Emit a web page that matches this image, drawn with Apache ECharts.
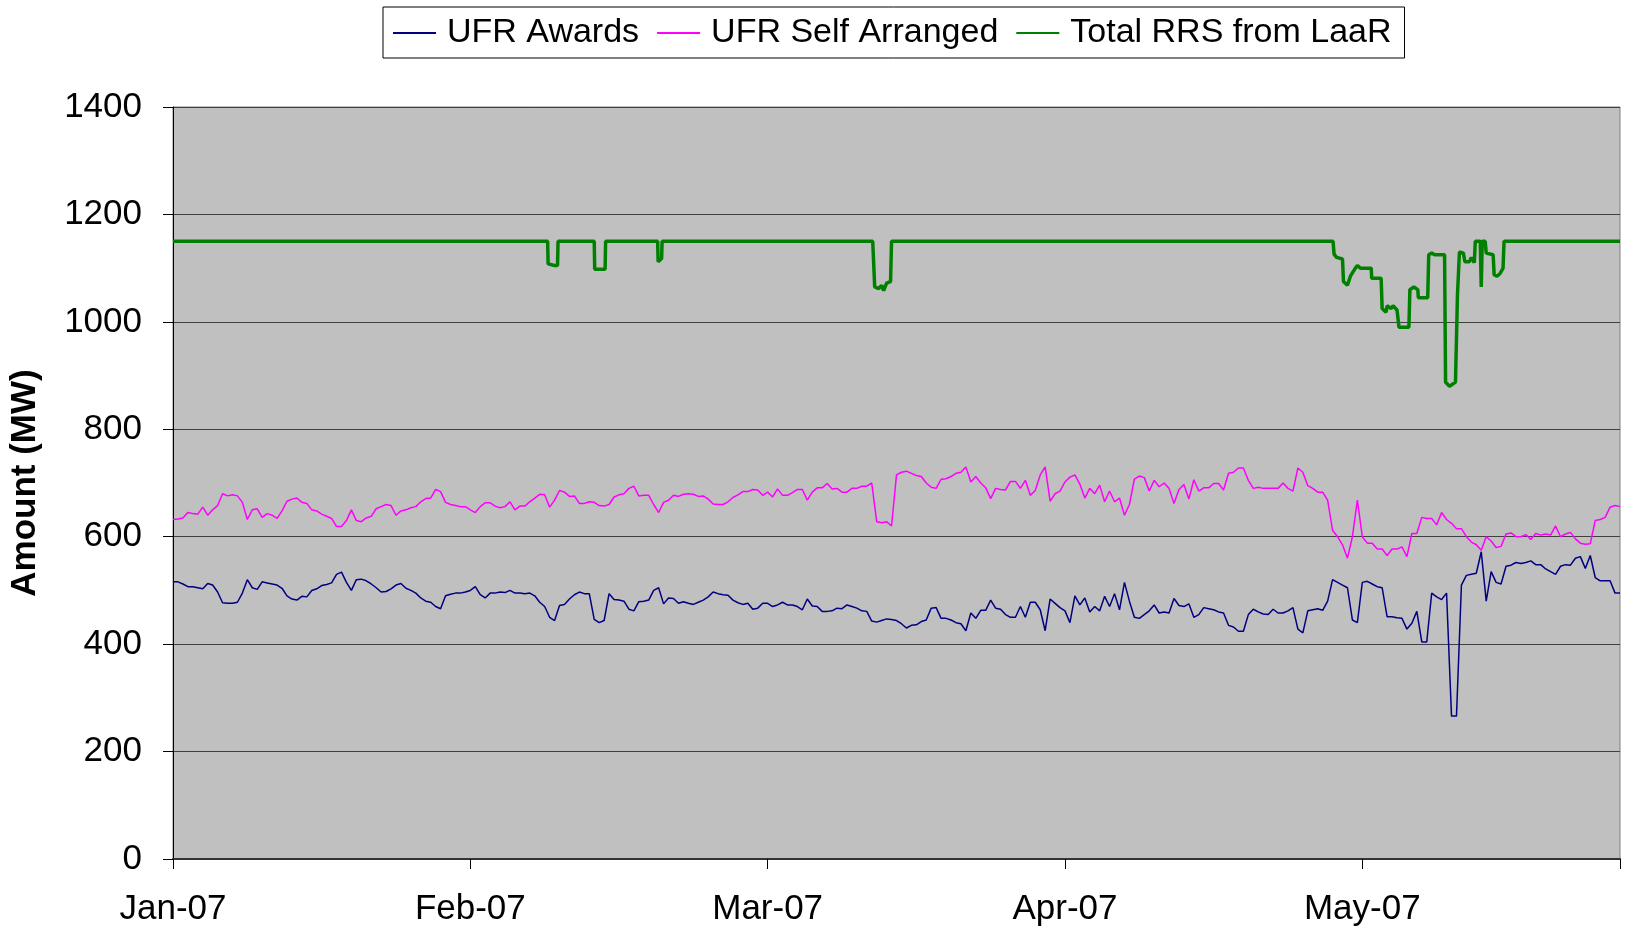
<!DOCTYPE html>
<html>
<head>
<meta charset="utf-8">
<script src="https://cdn.jsdelivr.net/npm/echarts@6/dist/echarts.min.js"></script>
<style>
  html, body { margin: 0; padding: 0; background: #fff; }
  #chart { width: 1630px; height: 930px; }
</style>
</head>
<body>
<div id="chart"></div>
<script>
// X axis tick labels (one every 30 days from the start)
const tickLabels = ['Jan-07', 'Feb-07', 'Mar-07', 'Apr-07', 'May-07'];
const TICK_DAYS = 30;
const DAY_STEP = 0.5;   // sampling step of the two UFR series (days)
const X_MAX = 146;

// UFR Awards (MW), one value every half day
const ufrAwards = [
  516,516,512,507,507,505,503,513,510,497,
  477,476,476,478,495,520,505,502,516,514,
  512,510,504,490,484,482,489,488,500,503,
  509,511,514,530,534,515,500,520,521,518,
  512,505,497,498,503,510,513,504,500,495,
  486,480,478,470,466,490,493,495,495,497,
  500,507,492,486,495,495,497,496,500,495,
  495,494,495,490,478,470,450,444,472,474,
  484,492,497,494,494,446,440,444,494,483,
  482,480,465,462,479,480,482,500,505,475,
  486,485,476,479,476,474,478,482,488,497,
  494,492,491,482,477,474,476,465,
  467,476,476,470,473,478,473,473,470,464,484,471,
  470,461,461,462,467,466,473,470,467,462,
  461,443,441,444,447,446,444,438,430,435,
  436,442,445,467,468,448,448,445,440,438,
  425,458,448,463,463,482,467,465,455,450,
  450,470,450,478,478,464,425,484,
  476,468,
  462,440,490,473,486,460,470,462,489,470,
  494,464,515,480,450,448,455,462,473,458,
  460,458,485,472,470,475,450,455,468,466,
  464,460,458,435,432,424,424,455,465,460,
  456,455,465,458,458,462,468,428,421,462,
  464,466,463,480,520,515,
  510,505,445,440,
  515,517,512,507,505,451,451,449,448,428,
  439,461,404,404,495,488,483,495,266,266,
  510,528,530,532,572,480,535,515,512,545,
  547,552,550,552,555,548,548,540,535,530,
  545,548,547,560,563,541,565,524,518,518,
  518,495,495
];

// UFR Self Arranged (MW), one value every half day
const ufrSelfArranged = [
  632,633,635,645,643,642,655,640,650,658,
  680,676,678,676,664,632,650,652,636,643,
  640,634,648,666,670,672,664,662,650,648,
  642,638,634,619,619,630,650,630,628,635,
  638,652,656,660,658,640,648,650,654,656,
  665,671,672,688,684,664,660,658,656,656,
  650,645,656,663,663,657,654,656,665,650,
  657,657,665,672,679,678,655,668,686,683,
  675,676,662,662,665,664,658,657,660,674,
  678,680,690,694,676,677,677,660,645,664,
  668,677,675,679,680,679,675,676,670,661,
  660,660,665,673,678,684,684,688,
  687,677,683,674,689,677,677,682,688,688,668,683,
  691,691,699,689,690,683,683,690,690,694,
  694,700,628,626,628,620,715,720,722,718,
  714,712,700,692,690,707,708,712,718,720,
  730,702,712,700,691,671,690,688,687,703,
  703,690,705,677,686,715,730,666,
  680,685,
  702,711,715,698,672,690,680,696,665,685,
  665,672,640,660,707,713,710,685,705,693,
  700,690,662,688,697,670,706,685,691,691,
  699,699,687,718,720,728,728,705,690,692,
  690,690,690,690,700,690,685,728,720,695,
  690,683,683,668,612,600,
  585,560,600,668,
  600,588,588,577,577,565,577,577,581,563,
  606,606,636,634,634,622,645,632,625,615,
  615,600,590,585,575,600,592,580,582,605,
  607,600,600,604,595,606,603,605,603,620,
  600,605,608,596,588,586,587,630,632,636,
  655,658,656
];

// Total RRS from LaaR: change points (day, MW)
const rrsDays = [
  0, 37.8, 37.85, 38.5, 38.8, 38.85,
  42.5, 42.55, 43.6, 43.65,
  48.9, 48.95, 49.3, 49.35,
  70.6, 70.8, 71.2, 71.5, 71.7, 72.0, 72.4, 72.5,
  117.05, 117.15, 117.4, 118.0, 118.1, 118.5, 118.8, 119.3, 119.5, 119.8,
  120.9, 120.95, 121.9, 122.0, 122.4, 122.5, 122.9, 123.1, 123.5, 123.7,
  124.7, 124.8, 125.2, 125.6, 125.65, 126.6, 126.7, 127.0, 127.3, 128.3,
  128.4, 128.8, 129.4, 129.6, 129.8, 130.2, 130.35, 130.8, 131.0, 131.3,
  131.4, 131.9, 132.0, 132.1, 132.4, 132.5, 133.2, 133.3, 133.6, 133.9,
  134.2, 134.3, 146
];
const rrsValues = [
  1150, 1150, 1108, 1105, 1105, 1150,
  1150, 1098, 1098, 1150,
  1150, 1112, 1118, 1150,
  1150, 1065, 1062, 1068, 1058, 1072, 1075, 1150,
  1150, 1126, 1120, 1117, 1075, 1068, 1085, 1100, 1105, 1100,
  1100, 1081, 1081, 1025, 1018, 1030, 1025, 1030, 1022, 990,
  990, 1060, 1065, 1060, 1045, 1045, 1125, 1128, 1125, 1125,
  888, 880, 888, 1050, 1130, 1128, 1112, 1112, 1120, 1110,
  1150, 1150, 1065, 1150, 1150, 1128, 1125, 1088, 1085, 1090,
  1100, 1150, 1150
];

const FONT = '"Liberation Sans", Arial, sans-serif';
const LEGEND_LINE = 'path://M0,0 L43,0 L43,2 L0,2 Z';

const chart = echarts.init(document.getElementById('chart'), null, { renderer: 'canvas' });
chart.setOption({
  animation: false,
  backgroundColor: '#ffffff',
  legend: {
    top: 7,
    left: 383,
    padding: [9, 13, 8, 10],
    borderColor: '#000',
    borderWidth: 1,
    itemWidth: 43,
    itemHeight: 2,
    itemGap: 18,
    textStyle: { fontSize: 34, fontFamily: FONT, color: '#000', padding: [0, 0, 0, 6] },
    data: [
      { name: 'UFR Awards', icon: LEGEND_LINE },
      { name: 'UFR Self Arranged', icon: LEGEND_LINE },
      { name: 'Total RRS from LaaR', icon: LEGEND_LINE }
    ]
  },
  grid: {
    left: 172, right: 10, top: 107, bottom: 71,
    show: true,
    backgroundColor: '#C0C0C0',
    borderColor: '#808080',
    borderWidth: 1
  },
  xAxis: {
    type: 'value',
    min: 0,
    max: X_MAX,
    interval: TICK_DAYS,
    axisLine: { show: true, lineStyle: { color: '#333', width: 2 } },
    axisTick: { show: true, length: 10, lineStyle: { color: '#000', width: 1 } },
    axisLabel: {
      margin: 33,
      fontSize: 35,
      fontFamily: FONT,
      color: '#000',
      formatter: function (v) {
        return (v % TICK_DAYS === 0 && tickLabels[v / TICK_DAYS]) ? tickLabels[v / TICK_DAYS] : '';
      }
    },
    splitLine: { show: false }
  },
  yAxis: {
    type: 'value',
    min: 0,
    max: 1400,
    interval: 200,
    name: 'Amount (MW)',
    nameLocation: 'middle',
    nameGap: 130,
    nameTextStyle: { fontSize: 35, fontWeight: 'bold', fontFamily: FONT, color: '#000' },
    axisLine: { show: true, lineStyle: { color: '#000', width: 1 } },
    axisTick: { show: true, length: 10, lineStyle: { color: '#000', width: 1 } },
    axisLabel: {
      margin: 31, fontSize: 35, fontFamily: FONT, color: '#000',
      formatter: function (v) { return String(v); }
    },
    splitLine: { show: true, lineStyle: { color: '#404040', width: 1.2 } }
  },
  series: [
    {
      name: 'UFR Awards',
      type: 'line',
      symbol: 'none',
      data: ufrAwards.map((v, i) => [i * DAY_STEP, v]),
      lineStyle: { color: '#000080', width: 1.5 },
      itemStyle: { color: '#000080' }
    },
    {
      name: 'UFR Self Arranged',
      type: 'line',
      symbol: 'none',
      data: ufrSelfArranged.map((v, i) => [i * DAY_STEP, v]),
      lineStyle: { color: '#FF00FF', width: 1.5 },
      itemStyle: { color: '#FF00FF' }
    },
    {
      name: 'Total RRS from LaaR',
      type: 'line',
      symbol: 'none',
      data: rrsDays.map((d, i) => [d, rrsValues[i]]),
      lineStyle: { color: '#008000', width: 3.5 },
      itemStyle: { color: '#008000' }
    }
  ]
});
</script>
</body>
</html>
